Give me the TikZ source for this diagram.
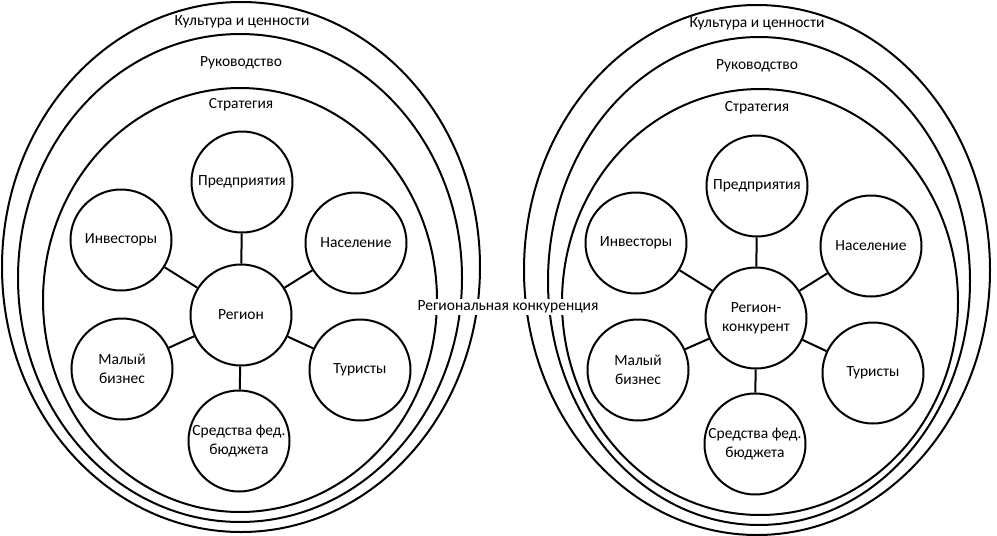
\documentclass[tikz,border=0pt]{standalone}
\usepackage{fontspec}
\setmainfont{Carlito}
\tikzset{
  bub/.style={draw, circle, line width=2pt, minimum size=101pt, inner sep=0pt, align=center, font=\fontsize{15.5}{19}\selectfont},
  ring/.style={line width=2pt},
  lbl/.style={font=\fontsize{15.5}{19}\selectfont, inner sep=1pt},
  link/.style={line width=2pt}
}
\begin{document}
\begin{tikzpicture}[x=1pt,y=-1pt]
\useasboundingbox (0,0) rectangle (997,536);
% left rings
\draw[ring] (241,267) ellipse [x radius=239, y radius=265];
\draw[ring] (240,278) ellipse [x radius=222, y radius=244];
\draw[ring] (240,300) ellipse [x radius=197, y radius=212];
% right rings
\draw[ring] (757,270) ellipse [x radius=233, y radius=265];
\draw[ring] (759,281) ellipse [x radius=211, y radius=244];
\draw[ring] (760,302) ellipse [x radius=198, y radius=213];
% ring labels
\node[lbl] (lk) at (242,22) {Культура и ценности};
\node[lbl] (lr) at (241,63) {Руководство};
\node[lbl] (ls) at (241,105) {Стратегия};
\node[lbl] (rk) at (757,24) {Культура и ценности};
\node[lbl] (rr) at (757,66) {Руководство};
\node[lbl] (rs) at (757,108) {Стратегия};
\node[lbl, fill=white, inner sep=2pt] (comp) at (508,307) {Региональная конкуренция};
% left circles
\node[bub] (L) at (241,315) {Регион};
\node[bub] (Lp) at (242,182) {Предприятия};
\node[bub] (Ln) at (356,243) {Население};
\node[bub] (Lt) at (360,370) {Туристы};
\node[bub] (Lb) at (239,441) {Средства фед.\\бюджета};
\node[bub] (Lm) at (122,369) {Малый\\бизнес};
\node[bub] (Li) at (121,240) {Инвесторы};
\foreach \t in {Lp,Ln,Lt,Lb,Lm,Li} \draw[link] (L) -- (\t);
% right circles
\node[bub] (R) at (756,318) {Регион-\\конкурент};
\node[bub] (Rp) at (757,186) {Предприятия};
\node[bub] (Rn) at (871,246) {Население};
\node[bub] (Rt) at (873,373) {Туристы};
\node[bub] (Rb) at (755,444) {Средства фед.\\бюджета};
\node[bub] (Rm) at (638,370) {Малый\\бизнес};
\node[bub] (Ri) at (636,243) {Инвесторы};
\foreach \t in {Rp,Rn,Rt,Rb,Rm,Ri} \draw[link] (R) -- (\t);
\end{tikzpicture}
\end{document}
